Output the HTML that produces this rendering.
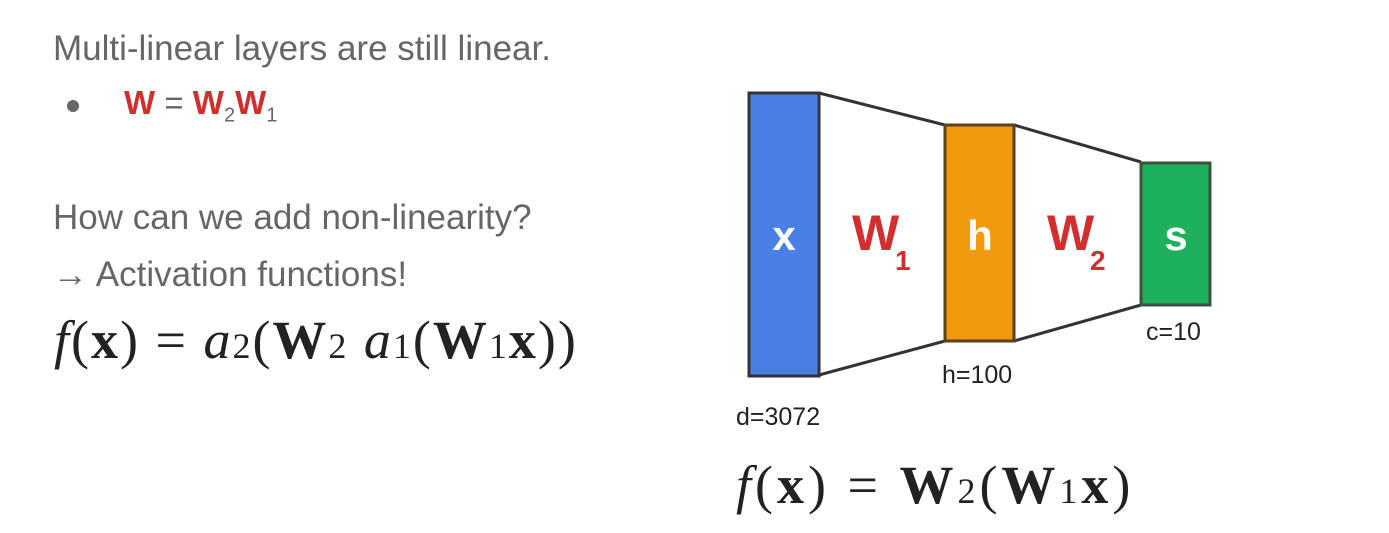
<!DOCTYPE html>
<html><head><meta charset="utf-8"><style>
body{margin:0;width:1389px;height:533px;background:#fff;overflow:hidden;position:relative;font-family:"Liberation Sans",sans-serif}
.t{position:absolute;color:#666;font-size:35px;white-space:nowrap}
.m{position:absolute;font-family:"Liberation Serif",serif;color:#222;font-size:54px;white-space:nowrap;letter-spacing:2px}
.m span{font-size:36px}
</style></head><body>
<div class="t" style="left:53px;top:29px">Multi-linear layers are still linear.</div>
<div style="position:absolute;left:67px;top:100px;width:12px;height:12px;border-radius:50%;background:#666"></div>
<div style="position:absolute;left:124px;top:84px;font-size:33px;font-weight:bold;color:#d12f2f;white-space:nowrap">W <span style="color:#666;font-weight:normal">=</span> W<sub style="color:#666;font-weight:normal;font-size:20px">2</sub>W<sub style="color:#666;font-weight:normal;font-size:20px">1</sub></div>
<div class="t" style="left:53px;top:198px">How can we add non-linearity?</div>
<div class="t" style="left:53px;top:255px">→ Activation functions!</div>
<div class="m" style="left:54px;top:309px"><i>f</i>(<b>x</b>) = <i>a</i><span>2</span>(<b>W</b><span>2</span> <i>a</i><span>1</span>(<b>W</b><span>1</span><b>x</b>))</div>
<svg style="position:absolute;left:0;top:0" width="1389" height="533">
<g stroke="#333" stroke-width="3" fill="none">
<line x1="819" y1="93" x2="945" y2="125"/><line x1="819" y1="375" x2="945" y2="341"/>
<line x1="1014" y1="125" x2="1141" y2="162"/><line x1="1014" y1="341" x2="1141" y2="305"/>
</g>
<rect x="749" y="93" width="70" height="283" fill="#4a80e6" stroke="#333" stroke-width="3"/>
<rect x="945" y="125" width="69" height="216" fill="#f29a0e" stroke="#5a4320" stroke-width="3"/>
<rect x="1141" y="163" width="69" height="142" fill="#1cb15a" stroke="#3c5040" stroke-width="3"/>
<g font-family="Liberation Sans,sans-serif" font-weight="bold" font-size="42" fill="#fff" text-anchor="middle">
<text x="784" y="250">x</text><text x="980" y="250">h</text><text x="1176" y="250">s</text>
</g>
<g font-family="Liberation Sans,sans-serif" font-weight="bold" fill="#d12f2f">
<text x="852" y="250" font-size="50">W</text><text x="895" y="270" font-size="28">1</text>
<text x="1047" y="250" font-size="50">W</text><text x="1090" y="270" font-size="28">2</text>
</g>
<g font-family="Liberation Sans,sans-serif" font-size="25" fill="#222">
<text x="736" y="425">d=3072</text><text x="942" y="383">h=100</text><text x="1146" y="340">c=10</text>
</g>
</svg>
<div class="m" style="left:736px;top:454px;letter-spacing:4px"><i>f</i>(<b>x</b>) = <b>W</b><span>2</span>(<b>W</b><span>1</span><b>x</b>)</div>
</body></html>
